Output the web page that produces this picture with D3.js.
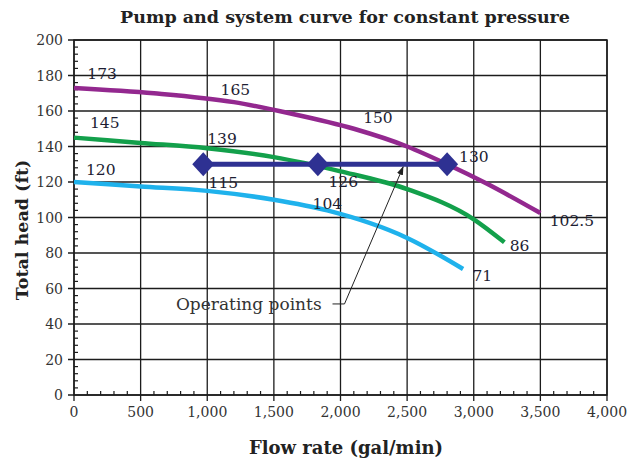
<!DOCTYPE html>
<html>
<head>
<meta charset="utf-8">
<script src="https://cdn.jsdelivr.net/npm/d3@7"></script>
<style>
  body { margin: 0; background: #fff; }
  text { font-family: "DejaVu Serif", "Liberation Serif", serif; }
</style>
</head>
<body>
<svg id="chart" width="635" height="461"></svg>
<script>
// Axis ticks
const xTicks = [0, 500, 1000, 1500, 2000, 2500, 3000, 3500, 4000];
const yTicks = [0, 20, 40, 60, 80, 100, 120, 140, 160, 180, 200];

// Pump curves (flow in gal/min, head in ft)
const purpleFlow = [0, 600, 1200, 1600, 2100, 2500, 2800, 3100, 3500];
const purpleHead = [173, 170, 165, 159, 150, 140, 130, 119, 102.5];
const greenFlow = [0, 500, 1000, 1500, 2000, 2500, 3000, 3230];
const greenHead = [145, 142, 139, 134, 126, 116, 99, 86];
const blueFlow = [0, 500, 1000, 1500, 1900, 2500, 2920];
const blueHead = [120, 117.5, 115, 110, 104, 88.5, 71];

// Constant-pressure system line with its operating points
const opFlow = [970, 1830, 2800];
const opHead = [130, 130, 130];

// Value labels along the curves
const labelText = ["173", "165", "150", "130", "102.5", "145", "139", "126", "86", "120", "115", "104", "71"];
const labelFlow = [100, 1100, 2170, 2890, 3570, 120, 1000, 1910, 3270, 90, 1010, 1790, 2990];
const labelHead = [181, 172, 156, 134, 98, 153, 144, 120, 84, 127, 119.5, 107.5, 67];

const svg = d3.select("#chart");
const plotLeft = 74, plotRight = 607, plotTop = 40, plotBottom = 395;

const x = d3.scaleLinear().domain([0, 4000]).range([plotLeft, plotRight]);
const y = d3.scaleLinear().domain([0, 200]).range([plotBottom, plotTop]);

const ink = "#1c1c1c";

// Title
svg.append("text")
  .attr("x", 345).attr("y", 23)
  .attr("text-anchor", "middle")
  .attr("font-size", 17.5).attr("font-weight", "bold")
  .attr("fill", "#222")
  .text("Pump and system curve for constant pressure");

// Grid
const grid = svg.append("g").attr("stroke", ink).attr("stroke-width", 1.3);
grid.selectAll(".vx").data(xTicks).join("line")
  .attr("x1", d => x(d)).attr("x2", d => x(d))
  .attr("y1", plotTop).attr("y2", plotBottom + 6);
grid.selectAll(".hy").data(yTicks).join("line")
  .attr("x1", plotLeft - 6).attr("x2", plotRight)
  .attr("y1", d => y(d)).attr("y2", d => y(d));

// Minor ticks (inside the frame)
const minor = svg.append("g").attr("stroke", ink).attr("stroke-width", 1.2);
minor.selectAll(".mx").data(d3.range(0, 4001, 100).filter(v => v % 500 !== 0)).join("line")
  .attr("x1", d => x(d)).attr("x2", d => x(d))
  .attr("y1", plotBottom).attr("y2", plotBottom - 4);
minor.selectAll(".my").data(d3.range(0, 201, 4).filter(v => v % 20 !== 0)).join("line")
  .attr("x1", plotLeft).attr("x2", plotLeft + 4)
  .attr("y1", d => y(d)).attr("y2", d => y(d));

// Frame
svg.append("rect")
  .attr("x", plotLeft).attr("y", plotTop)
  .attr("width", plotRight - plotLeft).attr("height", plotBottom - plotTop)
  .attr("fill", "none").attr("stroke", ink).attr("stroke-width", 1.5);

// Tick labels
const fmt = d3.format(",");
svg.selectAll(".xl").data(xTicks).join("text")
  .attr("x", d => x(d)).attr("y", plotBottom + 22)
  .attr("text-anchor", "middle")
  .attr("font-size", 14).attr("fill", "#333")
  .text(d => fmt(d));
svg.selectAll(".yl").data(yTicks).join("text")
  .attr("x", plotLeft - 11).attr("y", d => y(d) + 5)
  .attr("text-anchor", "end")
  .attr("font-size", 14).attr("fill", "#333")
  .text(d => d);

// Axis titles
svg.append("text")
  .attr("x", 346).attr("y", 454)
  .attr("text-anchor", "middle")
  .attr("font-size", 18).attr("font-weight", "bold").attr("fill", "#222")
  .text("Flow rate (gal/min)");
svg.append("text")
  .attr("transform", "translate(28,230) rotate(-90)")
  .attr("text-anchor", "middle")
  .attr("font-size", 17.5).attr("font-weight", "bold").attr("fill", "#222")
  .text("Total head (ft)");

// Pump curves
const line = d3.line().x(d => x(d[0])).y(d => y(d[1])).curve(d3.curveMonotoneX);
const curves = [
  { flow: blueFlow, head: blueHead, color: "#1fb2ec" },
  { flow: greenFlow, head: greenHead, color: "#13a04b" },
  { flow: purpleFlow, head: purpleHead, color: "#93288f" }
];
curves.forEach(c => {
  svg.append("path")
    .datum(d3.zip(c.flow, c.head))
    .attr("d", line)
    .attr("fill", "none")
    .attr("stroke", c.color)
    .attr("stroke-width", 4.5)
    .attr("stroke-linecap", "butt");
});

// Operating line and points
const navy = "#2e3192";
svg.append("path")
  .datum(d3.zip(opFlow, opHead))
  .attr("d", d3.line().x(d => x(d[0])).y(d => y(d[1])))
  .attr("fill", "none").attr("stroke", navy).attr("stroke-width", 5);
svg.selectAll(".op").data(d3.zip(opFlow, opHead)).join("path")
  .attr("transform", d => `translate(${x(d[0])},${y(d[1])})`)
  .attr("d", "M0,-12L11,0L0,12L-11,0Z")
  .attr("fill", navy);

// Curve value labels
svg.selectAll(".vl").data(d3.zip(labelText, labelFlow, labelHead)).join("text")
  .attr("x", d => x(d[1])).attr("y", d => y(d[2]) + 5)
  .attr("font-size", 15.5).attr("fill", "#1d1d33")
  .text(d => d[0]);

// Annotation
const defs = svg.append("defs");
defs.append("marker")
  .attr("id", "head").attr("viewBox", "0 0 10 10")
  .attr("refX", 9).attr("refY", 5)
  .attr("markerWidth", 9).attr("markerHeight", 9)
  .attr("orient", "auto")
  .append("path").attr("d", "M0,1.5L10,5L0,8.5Z").attr("fill", "#222");

svg.append("text")
  .attr("x", x(765)).attr("y", y(51.3) + 6)
  .attr("font-size", 17).attr("fill", "#333")
  .text("Operating points");
svg.append("path")
  .attr("d", `M${x(1940)},${y(51.3)}L${x(2030)},${y(51.3)}L${x(2470)},${y(128.5)}`)
  .attr("fill", "none").attr("stroke", "#222").attr("stroke-width", 1)
  .attr("marker-end", "url(#head)");
</script>
</body>
</html>
